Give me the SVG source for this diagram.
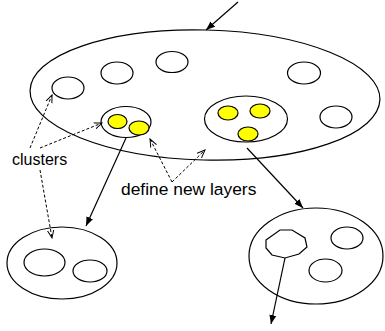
<svg xmlns="http://www.w3.org/2000/svg" width="385" height="331" viewBox="0 0 385 331">
  <style>
    .shape { fill: #fff; stroke: #000; stroke-width: 1.2; }
    .dot { fill: #ffff00; stroke: #000; stroke-width: 1.2; }
    .solid { fill: none; stroke: #000; stroke-width: 1.2; }
    .dash { fill: none; stroke: #000; stroke-width: 1; stroke-dasharray: 3 2; }
    .label { font-family: "Liberation Sans", Arial, sans-serif; font-size: 16px; fill: #000; }
  </style>
  <defs>
    <marker id="arrowSolid" markerWidth="10" markerHeight="8" refX="9" refY="4" orient="auto" markerUnits="userSpaceOnUse">
      <path d="M0,0.5 L9,4 L0,7.5 Z" fill="#000"/>
    </marker>
    <marker id="arrowOpen" markerWidth="9" markerHeight="8" refX="8" refY="4" orient="auto" markerUnits="userSpaceOnUse">
      <path d="M0,0.8 L8,4 L0,7.2" fill="none" stroke="#000" stroke-width="1"/>
    </marker>
  </defs>

  <!-- top-level layer -->
  <g id="layer-top">
    <ellipse class="shape" cx="205" cy="95" rx="175" ry="65" transform="rotate(1.5 205 95)"/>
    <ellipse class="shape" cx="68" cy="88" rx="16" ry="11"/>
    <ellipse class="shape" cx="117" cy="73" rx="16" ry="11"/>
    <ellipse class="shape" cx="172" cy="62" rx="16" ry="10.5"/>
    <ellipse class="shape" cx="304" cy="73" rx="16.5" ry="11"/>
    <ellipse class="shape" cx="336" cy="117" rx="16" ry="11"/>
  </g>

  <g id="cluster-left">
    <ellipse class="shape" cx="126" cy="122" rx="25" ry="15.5"/>
    <ellipse class="dot" cx="117.5" cy="121.5" rx="9.5" ry="7"/>
    <ellipse class="dot" cx="139" cy="128" rx="10" ry="7"/>
  </g>

  <g id="cluster-right">
    <ellipse class="shape" cx="246" cy="119" rx="41.5" ry="23"/>
    <ellipse class="dot" cx="228" cy="113" rx="10" ry="7"/>
    <ellipse class="dot" cx="260" cy="111" rx="10" ry="7"/>
    <ellipse class="dot" cx="248" cy="134" rx="10" ry="7"/>
  </g>

  <!-- lower layers -->
  <g id="layer-left">
    <ellipse class="shape" cx="62" cy="263" rx="55" ry="36"/>
    <ellipse class="shape" cx="44.5" cy="262.5" rx="20.5" ry="13.5"/>
    <ellipse class="shape" cx="90" cy="271" rx="17" ry="11"/>
  </g>

  <g id="layer-right">
    <ellipse class="shape" cx="316" cy="256" rx="67" ry="48"/>
    <polygon class="shape" points="266,240 280,230 292,230 305,238 307,247 299,254 285,258 272,255 266,248"/>
    <ellipse class="shape" cx="347" cy="238" rx="16" ry="11"/>
    <ellipse class="shape" cx="325.5" cy="270.5" rx="16.5" ry="11.5"/>
  </g>

  <g id="label-clusters">
    <text class="label" x="12" y="165">clusters</text>
  </g>
  <g id="label-layers">
    <text class="label" x="121" y="195" style="font-size:17.4px">define new layers</text>
  </g>

  <!-- connectors -->
  <g id="connectors">
    <line class="solid" x1="238" y1="2" x2="206" y2="30" marker-end="url(#arrowSolid)"/>
    <line class="solid" x1="126" y1="138" x2="86" y2="226" marker-end="url(#arrowSolid)"/>
    <line class="solid" x1="247" y1="148" x2="303" y2="208" marker-end="url(#arrowSolid)"/>
    <line class="solid" x1="285" y1="258" x2="271" y2="324" marker-end="url(#arrowSolid)"/>

    <line class="dash" x1="30" y1="148" x2="52" y2="95" marker-end="url(#arrowOpen)"/>
    <line class="dash" x1="40" y1="148" x2="102" y2="123" marker-end="url(#arrowOpen)"/>
    <line class="dash" x1="40" y1="170" x2="52" y2="238" marker-end="url(#arrowOpen)"/>
    <line class="dash" x1="172" y1="182" x2="150" y2="139" marker-end="url(#arrowOpen)"/>
    <line class="dash" x1="172" y1="182" x2="205" y2="150" marker-end="url(#arrowOpen)"/>
  </g>
</svg>
